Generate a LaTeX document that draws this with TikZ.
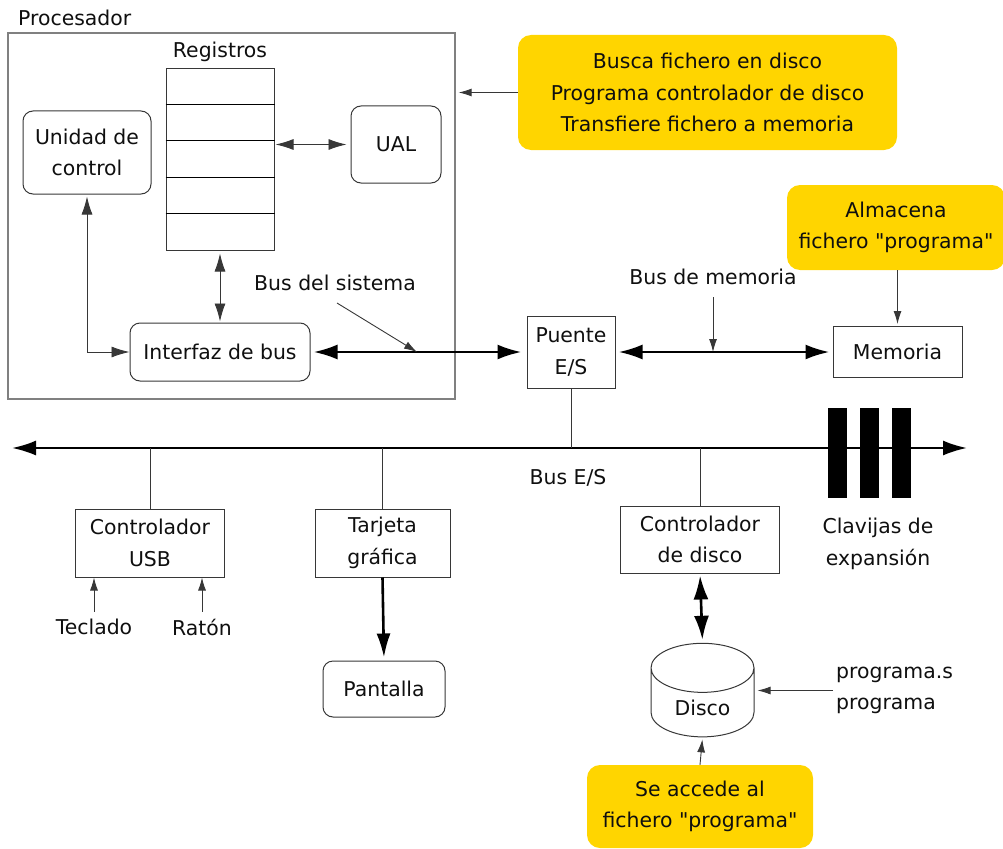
\documentclass[tikz,border=0pt]{standalone}
\usepackage{fontspec}
\setmainfont{DejaVu Sans}[Ligatures=TeXOff]
\usetikzlibrary{arrows.meta,shapes.geometric}
\definecolor{amarillo}{RGB}{255,213,0}
\definecolor{linea}{RGB}{55,55,55}
\definecolor{texto}{RGB}{15,15,15}
\tikzset{
  caja/.style={draw=linea, line width=1pt, align=center, inner sep=1pt},
  redonda/.style={caja, rounded corners=10pt},
  nota/.style={fill=amarillo, rounded corners=13pt, align=center, inner sep=1pt},
  etiqueta/.style={inner sep=0pt, align=center},
  fina/.style={draw=linea, line width=0.9pt},
  flecha/.style={fina, -{Latex[length=13pt,width=8pt]}},
  flechad/.style={fina, {Latex[length=18pt,width=11pt]}-{Latex[length=18pt,width=11pt]}},
  grueso/.style={draw=black, line width=2.6pt, {Latex[length=24pt,width=15pt]}-{Latex[length=24pt,width=15pt]}},
  gruesof/.style={draw=black, line width=2.6pt, -{Latex[length=24pt,width=14pt]}},
  bus/.style={draw=black, line width=2.2pt, {Latex[length=24pt,width=15pt]}-{Latex[length=24pt,width=15pt]}}
}
\begin{document}
\begin{tikzpicture}[x=1pt, y=-1pt, every node/.style={font=\fontsize{20.4}{31.5}\selectfont, text=texto}]
  \useasboundingbox (0,0) rectangle (1003,848);
  \clip (0,0) rectangle (1003,848);

  % procesador
  \node[etiqueta, anchor=west] (procl) at (18,18) {Procesador};
  \node[draw=black!50, line width=1.3pt, minimum width=447, minimum height=366] (proc) at (231.5,216) {};
  \node[etiqueta] (regl) at (220,52) {Registros};
  \node[caja, minimum width=108, minimum height=181] (reg) at (220,159.5) {};
  \foreach \i in {1,...,4}
    \draw[line width=0.9pt] ([yshift=-\i*36.2pt]reg.north west) -- ([yshift=-\i*36.2pt]reg.north east);
  \node[redonda, minimum width=128, minimum height=83] (uc) at (87,152.5) {Unidad de\\control};
  \node[redonda, minimum width=90, minimum height=77] (ual) at (396,144.5) {UAL};
  \node[redonda, minimum width=180, minimum height=58] (ib) at (220,352) {Interfaz de bus};
  \node[etiqueta] (bussl) at (335,283) {Bus del sistema};

  \draw[flechad, shorten <=1pt, shorten >=4pt] (reg.east |- ual.west) -- (ual.west);
  \draw[flechad, shorten <=3pt, shorten >=1pt] (reg.south) -- (ib.north);
  \draw[flechad, shorten <=2pt] (uc.south) -- (uc.south |- ib.west) -- (ib.west);

  % puente y memoria
  \node[caja, minimum width=88, minimum height=72] (puente) at (571,352) {Puente\\E/S};
  \node[caja, minimum width=129, minimum height=51] (mem) at (897.5,352) {Memoria};
  \node[etiqueta] (busml) at (713,277) {Bus de memoria};
  \draw[grueso, shorten <=3pt, shorten >=5pt] (ib.east) -- (ib.east -| puente.west);
  \draw[grueso, shorten <=3pt, shorten >=3pt] (puente.east) -- (puente.east -| mem.west);
  \coordinate (sb) at (337,303);
  \coordinate (sbe) at (417,352);
  \draw[flecha] (sb) -- (sbe);
  \coordinate (mb) at (713,297);
  \draw[flecha] (mb) -- (mb |- puente.east);

  % notas
  \node[nota, minimum width=379, minimum height=115] (nota1) at (707.5,92.5)
    {Busca fichero en disco\\Programa controlador de disco\\Transfiere fichero a memoria};
  \node[nota, minimum width=218, minimum height=85] (nota2) at (896,227.5) {Almacena\\fichero "programa"};
  \draw[flecha, shorten >=3pt] (nota1.west) -- (proc.east |- nota1.west);
  \draw[flecha, shorten >=2pt] (mem.north |- nota2.south) -- (mem.north);

  % bus E/S
  \coordinate (busL) at (12,448);
  \coordinate (busR) at (967,448);
  \draw[bus] (busL) -- (busR);
  \node[etiqueta] (busel) at (568,478) {Bus E/S};
  \foreach \x in {828,860,892}
    \fill (\x,408) rectangle ++(19,90);
  \node[etiqueta] (clav) at (878,544) {Clavijas de\\expansión};
  \draw[fina] (puente.south) -- (puente.south |- busL);

  % dispositivos
  \node[caja, minimum width=149, minimum height=68] (usb) at (150,543) {Controlador\\USB};
  \node[etiqueta] (tecl) at (94,627) {Teclado};
  \node[etiqueta] (raton) at (202,627) {Ratón};
  \node[caja, minimum width=135, minimum height=68] (tarj) at (382.5,543) {Tarjeta\\gráfica};
  \node[redonda, minimum width=122, minimum height=56] (pant) at (384,689) {Pantalla};
  \node[caja, minimum width=159, minimum height=67] (ctrl) at (700,539.5) {Controlador\\de disco};
  \node[draw=linea, line width=1pt, cylinder, shape border rotate=90, aspect=0.85,
        minimum width=103, minimum height=77, inner sep=1pt] (disco) at (702.5,705) {\rule{0pt}{22pt}Disco};
  \node[etiqueta, align=left, anchor=west] (prog) at (836,690.5) {programa.s\\programa};
  \node[nota, minimum width=226, minimum height=83] (nota3) at (700,806.5) {Se accede al\\fichero "programa"};

  \draw[fina] (usb.north) -- (usb.north |- busL);
  \draw[fina] (tarj.north) -- (tarj.north |- busL);
  \draw[fina] (ctrl.north) -- (ctrl.north |- busL);
  \draw[flecha] ([yshift=7pt]tecl.north) -- (tecl.north |- usb.south);
  \draw[flecha] ([yshift=7pt]raton.north) -- (raton.north |- usb.south);
  \draw[gruesof, shorten >=3pt] (tarj.south) -- (pant.north);
  \draw[grueso, shorten <=2pt, shorten >=3pt] (ctrl.south) -- (disco.north);
  \draw[flecha, shorten >=3pt] ([xshift=-3pt]prog.west) -- (prog.west -| disco.east);
  \draw[flecha, shorten >=2pt] (nota3.north) -- (disco.south);
\end{tikzpicture}
\end{document}
